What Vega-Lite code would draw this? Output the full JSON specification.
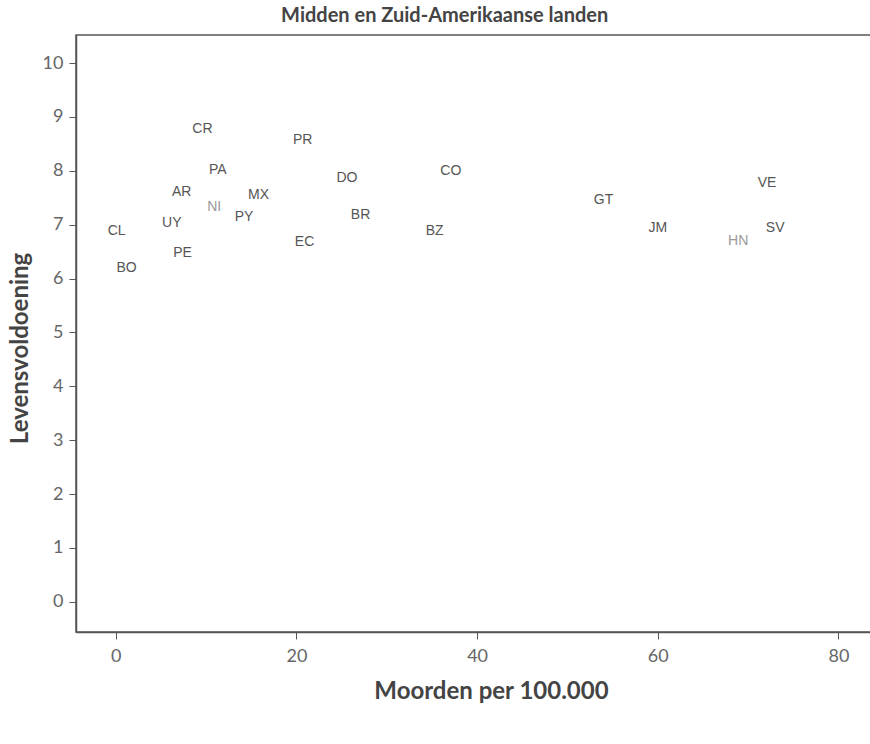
{
  "$schema": "https://vega.github.io/schema/vega-lite/v6.json",
  "autosize": "none",
  "width": 810,
  "height": 597,
  "padding": {"left": 76, "top": 35, "right": 0, "bottom": 112},
  "background": "white",
  "title": {
    "text": "Midden en Zuid-Amerikaanse landen",
    "font": "Lato",
    "fontSize": 20,
    "fontWeight": "bold",
    "color": "#444",
    "anchor": "start",
    "dx": 273,
    "offset": 9
  },
  "config": {
    "view": {"stroke": "#555", "strokeWidth": 1.5},
    "axis": {
      "grid": false,
      "domainColor": "#555",
      "domainWidth": 1.5,
      "tickColor": "#555",
      "tickSize": 7,
      "labelFont": "Lato",
      "labelFontSize": 18,
      "labelColor": "#666",
      "titleFont": "Lato",
      "titleFontSize": 24,
      "titleFontWeight": "bold",
      "titleColor": "#444"
    }
  },
  "data": {
    "values": [
      {"code": "CL", "moorden": 0.1, "leven": 6.88},
      {"code": "BO", "moorden": 1.2, "leven": 6.2},
      {"code": "UY", "moorden": 6.2, "leven": 7.03},
      {"code": "PE", "moorden": 7.4, "leven": 6.47},
      {"code": "AR", "moorden": 7.3, "leven": 7.61},
      {"code": "NI", "moorden": 10.9, "leven": 7.33},
      {"code": "CR", "moorden": 9.6, "leven": 8.78},
      {"code": "PA", "moorden": 11.3, "leven": 8.01},
      {"code": "PY", "moorden": 14.2, "leven": 7.14},
      {"code": "MX", "moorden": 15.8, "leven": 7.55},
      {"code": "PR", "moorden": 20.7, "leven": 8.57},
      {"code": "EC", "moorden": 20.9, "leven": 6.68},
      {"code": "DO", "moorden": 25.6, "leven": 7.87},
      {"code": "BR", "moorden": 27.1, "leven": 7.18},
      {"code": "BZ", "moorden": 35.3, "leven": 6.88},
      {"code": "CO", "moorden": 37.1, "leven": 8.0},
      {"code": "GT", "moorden": 54.0, "leven": 7.46},
      {"code": "JM", "moorden": 60.0, "leven": 6.94},
      {"code": "HN", "moorden": 68.9, "leven": 6.7},
      {"code": "VE", "moorden": 72.1, "leven": 7.77},
      {"code": "SV", "moorden": 73.0, "leven": 6.94}
    ]
  },
  "mark": {"type": "text", "font": "Liberation Sans", "fontSize": 14, "baseline": "middle", "align": "center"},
  "encoding": {
    "x": {
      "field": "moorden",
      "type": "quantitative",
      "scale": {"domain": [-4.4, 85.27], "nice": false, "zero": false},
      "axis": {"values": [0, 20, 40, 60, 80], "title": "Moorden per 100.000", "labelPadding": 8, "titleX": 415, "titlePadding": 14}
    },
    "y": {
      "field": "leven",
      "type": "quantitative",
      "scale": {"domain": [-0.56, 10.52], "nice": false, "zero": false},
      "axis": {"values": [0, 1, 2, 3, 4, 5, 6, 7, 8, 9, 10], "title": "Levensvoldoening", "labelPadding": 6, "titlePadding": 10, "titleY": 313}
    },
    "text": {"field": "code"},
    "color": {
      "condition": {"test": "indexof(['NI','HN'], datum.code) >= 0", "value": "#9a9a9a"},
      "value": "#555555"
    }
  }
}
